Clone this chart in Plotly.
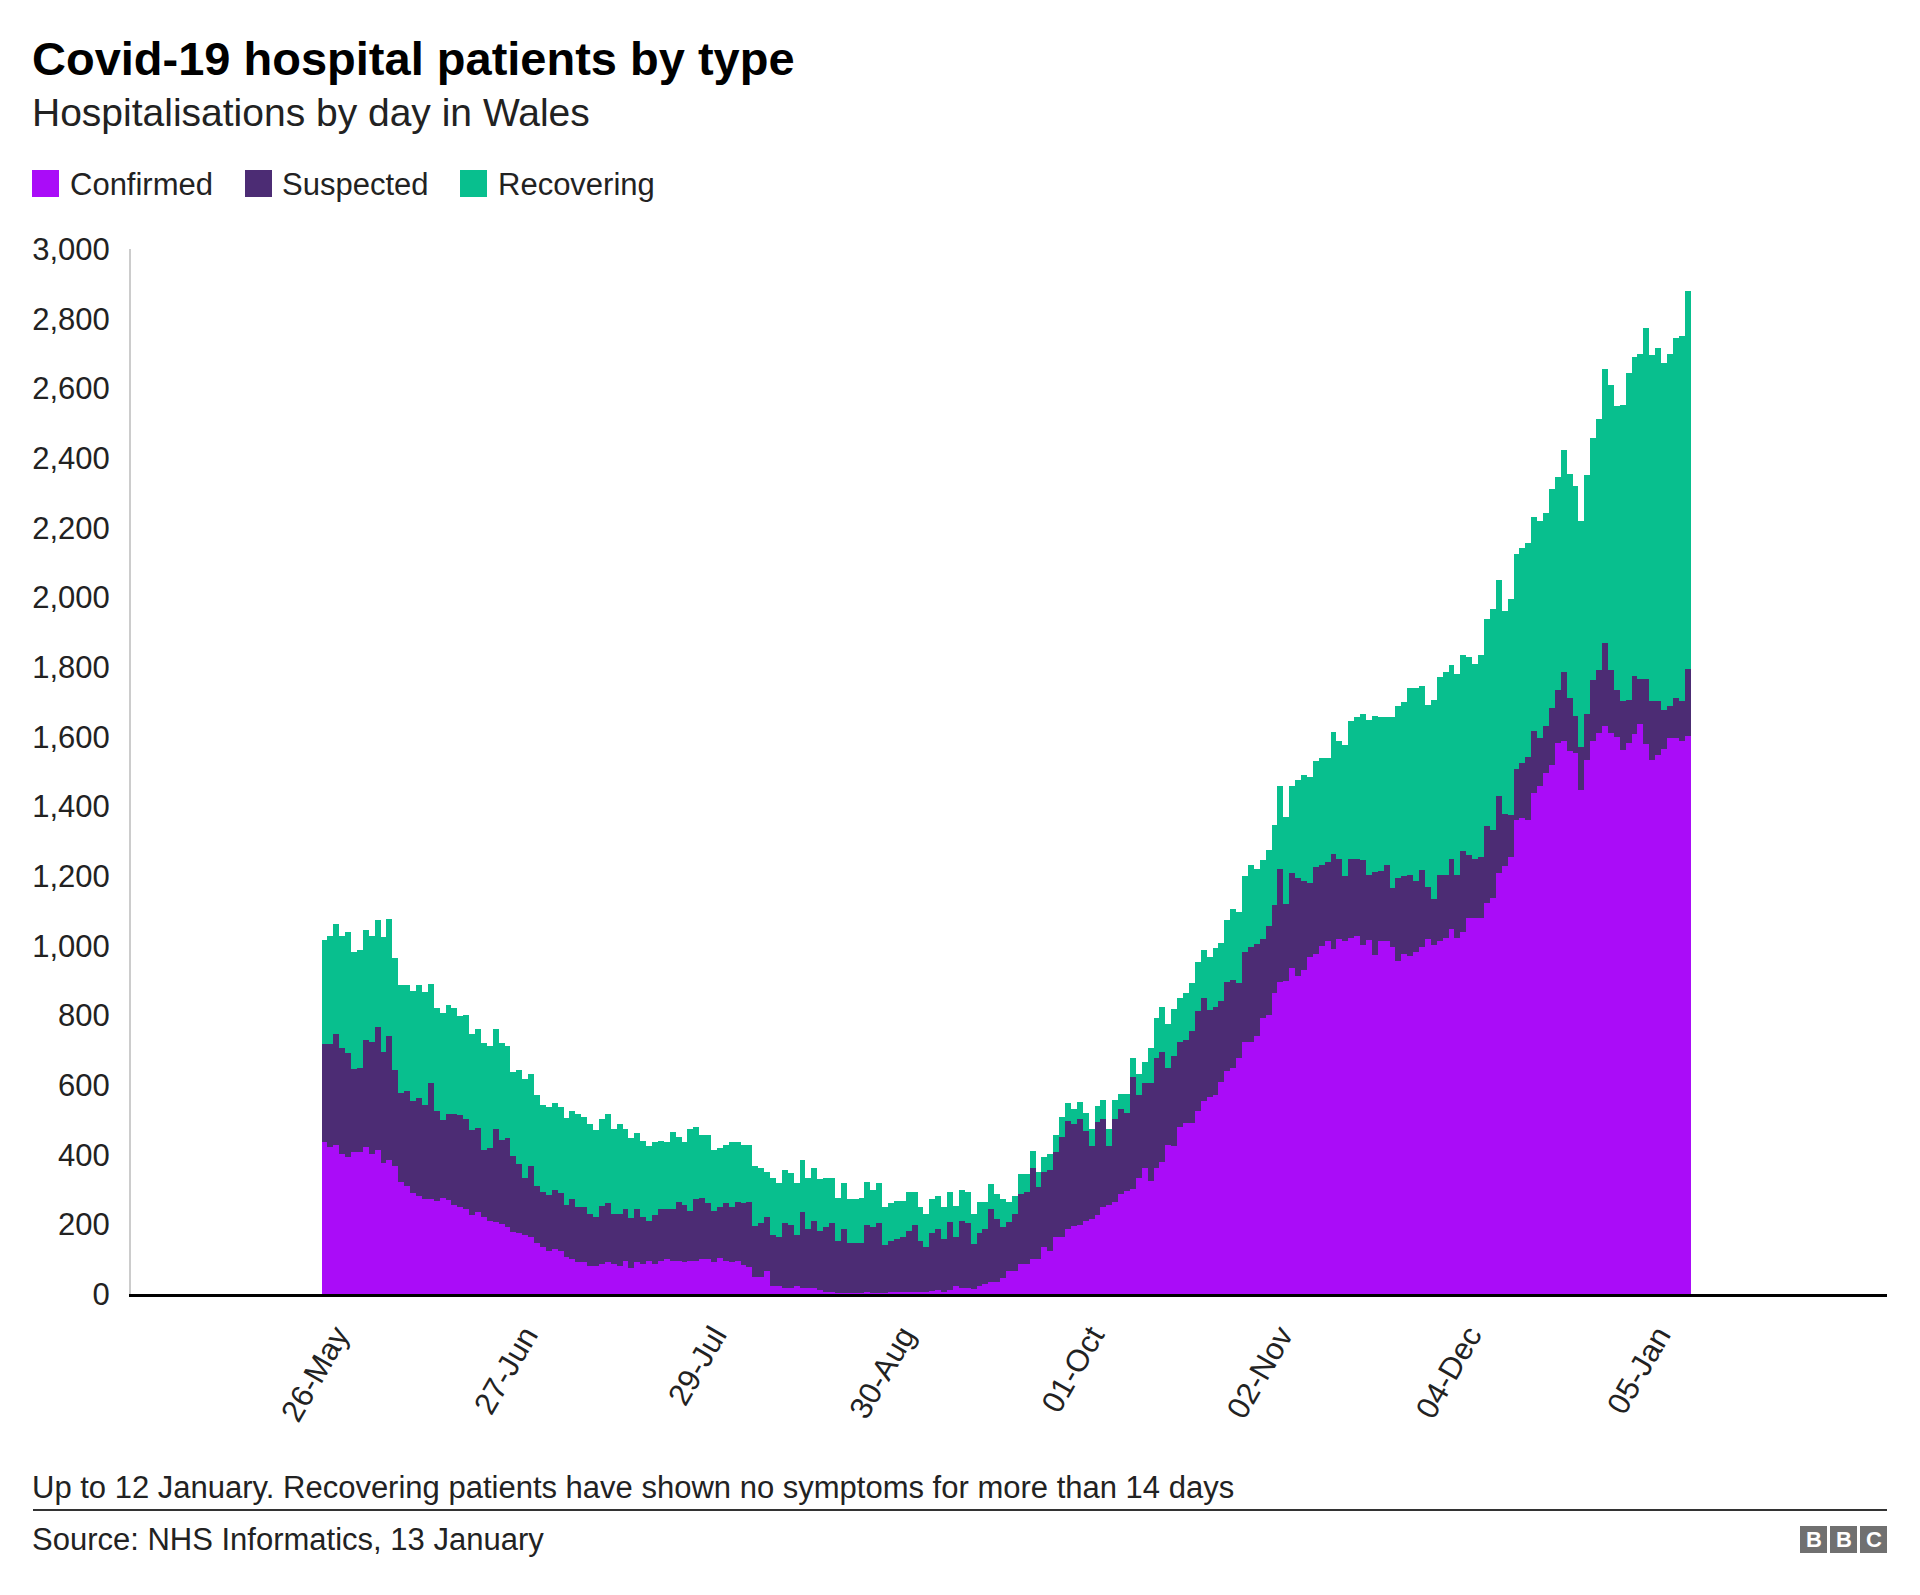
import plotly.graph_objects as go
import pandas as pd

dates = pd.date_range("2020-05-26", "2021-01-12", freq="D")

confirmed = [
    435,421,428,402,392,407,407,423,402,413,375,385,368,322,311,289,282,272,272,267,276,270,255,249,244,227,236,220,209,206,200,191,177,
    176,169,165,147,136,124,129,123,107,100,91,91,80,80,86,91,86,80,96,74,91,86,96,86,96,100,96,96,91,96,96,100,100,
    91,102,95,91,96,83,78,48,48,67,23,23,18,18,23,18,16,16,11,7,5,3,3,2,2,3,5,3,4,3,5,5,5,
    5,5,5,7,10,11,7,11,23,18,18,13,23,29,35,35,45,67,67,85,85,100,100,134,124,163,163,187,195,198,209,215,227,
    250,256,265,288,295,301,333,361,323,363,378,429,426,479,492,492,524,554,567,572,610,640,650,678,724,724,741,791,801,865,897,900,937,
    912,929,968,977,999,1012,991,1020,1013,1023,1027,1002,1016,974,1012,1012,995,956,977,970,981,995,1020,1002,1012,1023,1048,1023,1040,1079,1079,1079,1123,
    1136,1210,1230,1254,1361,1366,1362,1439,1457,1496,1520,1581,1587,1560,1554,1446,1532,1587,1611,1631,1611,1600,1562,1581,1609,1636,1578,1532,1547,1564,1597,1595,1589,1603,
]
suspected = [
    282,296,317,303,301,238,243,306,322,354,320,355,275,256,271,265,282,272,333,259,223,248,261,265,258,244,242,193,209,267,242,256,219,
    196,165,202,164,158,160,171,166,148,172,160,158,151,142,167,169,145,151,147,143,152,136,114,141,147,143,147,169,164,143,176,176,160,
    147,147,165,158,169,177,187,148,155,153,146,142,185,180,146,218,171,193,171,184,198,150,183,145,145,144,193,190,199,138,147,152,158,
    176,193,147,129,164,176,151,197,142,191,185,130,151,158,208,179,148,141,164,202,209,262,206,217,232,244,288,309,292,304,260,211,266,
    252,168,237,244,224,321,237,244,282,314,317,221,257,245,236,264,289,297,249,252,231,257,252,216,258,273,263,229,255,253,322,220,272,
    281,257,212,248,233,227,273,228,187,227,221,244,188,237,203,220,170,238,223,234,205,223,149,132,192,181,200,181,231,180,171,176,220,
    197,220,148,121,146,157,180,177,140,136,162,152,199,151,106,124,133,175,180,237,180,133,139,125,165,131,189,169,154,113,92,116,112,192,
]
recovering = [
    299,311,317,323,345,337,337,315,304,306,330,338,323,309,305,316,323,322,286,294,309,311,304,284,298,275,284,309,295,289,280,266,242,
    270,282,264,260,248,254,247,247,249,253,265,260,257,249,249,256,244,256,232,230,220,217,215,210,197,194,221,186,180,236,208,180,196,
    175,169,169,186,170,169,164,172,159,131,165,153,153,148,149,149,147,152,147,143,131,123,132,125,125,129,124,107,115,108,108,110,104,
    113,96,99,95,98,94,93,86,88,89,91,88,91,78,73,73,79,57,50,57,50,49,43,43,45,49,56,51,44,50,51,47,47,
    56,50,56,43,56,55,63,62,101,114,129,126,136,127,135,138,141,138,151,170,166,176,204,202,217,234,217,227,220,227,238,248,248,
    282,303,305,306,306,299,350,341,377,395,408,420,445,449,441,424,491,494,500,535,553,528,522,570,567,581,557,577,563,571,559,579,594,
    633,621,582,619,616,618,615,614,623,611,628,612,636,643,661,650,685,695,722,787,819,815,852,938,915,933,1006,995,1015,996,1011,1034,1050,1085,
]
assert len(confirmed) == len(suspected) == len(recovering) == len(dates)

series_names = ["Confirmed", "Suspected", "Recovering"]
series_colors = ["#aa0cf8", "#4c2c74", "#08bf8e"]

tick_dates = ["2020-05-26", "2020-06-27", "2020-07-29", "2020-08-30",
              "2020-10-01", "2020-11-02", "2020-12-04", "2021-01-05"]
tick_labels = ["26-May", "27-Jun", "29-Jul", "30-Aug", "01-Oct", "02-Nov", "04-Dec", "05-Jan"]
y_ticks = list(range(0, 3001, 200))

FONT = "Liberation Sans, Arial, Helvetica, sans-serif"
TXT = "#222222"

# page geometry (px)
WIDTH, HEIGHT = 1920, 1595
L, R, T, B = 131, 33, 249, 301
PW = WIDTH - L - R
PH = HEIGHT - T - B


def fx(x):
    return (x - L) / PW


def fy(y):
    return (HEIGHT - B - y) / PH


fig = go.Figure()
for name, vals, col in zip(series_names, [confirmed, suspected, recovering], series_colors):
    fig.add_trace(go.Bar(x=dates, y=vals, name=name, marker_color=col,
                         marker_line_width=0, showlegend=False))

shapes = []
annotations = []

# Title / subtitle
annotations.append(dict(text="<b>Covid-19 hospital patients by type</b>", x=fx(30), y=fy(59),
                        xref="paper", yref="paper", xanchor="left", yanchor="middle",
                        showarrow=False, font=dict(size=47, color="#000000", family=FONT)))
annotations.append(dict(text="Hospitalisations by day in Wales", x=fx(30), y=fy(113),
                        xref="paper", yref="paper", xanchor="left", yanchor="middle",
                        showarrow=False, font=dict(size=39, color=TXT, family=FONT)))

# Custom legend
leg_sq_x = [32, 245, 460]
leg_tx_x = [68, 280, 496]
for name, col, sx, tx in zip(series_names, series_colors, leg_sq_x, leg_tx_x):
    shapes.append(dict(type="rect", xref="paper", yref="paper",
                       x0=fx(sx), x1=fx(sx + 27), y0=fy(197), y1=fy(170),
                       fillcolor=col, line=dict(width=0)))
    annotations.append(dict(text=name, x=fx(tx), y=fy(184), xref="paper", yref="paper",
                            xanchor="left", yanchor="middle", showarrow=False,
                            font=dict(size=31, color=TXT, family=FONT)))

# Footer
annotations.append(dict(text="Up to 12 January. Recovering patients have shown no symptoms for more than 14 days",
                        x=fx(30), y=fy(1487), xref="paper", yref="paper", xanchor="left", yanchor="middle",
                        showarrow=False, font=dict(size=31, color=TXT, family=FONT)))
shapes.append(dict(type="line", xref="paper", yref="paper", x0=fx(33), x1=fx(1887),
                   y0=fy(1510), y1=fy(1510), line=dict(color="#333333", width=2)))
annotations.append(dict(text="Source: NHS Informatics, 13 January",
                        x=fx(30), y=fy(1539), xref="paper", yref="paper", xanchor="left", yanchor="middle",
                        showarrow=False, font=dict(size=31, color=TXT, family=FONT)))

# BBC logo blocks
for i, letter in enumerate(["B", "B", "C"]):
    x0 = 1800 + i * 30
    shapes.append(dict(type="rect", xref="paper", yref="paper",
                       x0=fx(x0), x1=fx(x0 + 27), y0=fy(1553), y1=fy(1526),
                       fillcolor="#707070", line=dict(width=0)))
    annotations.append(dict(text="<b>%s</b>" % letter, x=fx(x0 + 13.5), y=fy(1539.5),
                            xref="paper", yref="paper", xanchor="center", yanchor="middle",
                            showarrow=False, font=dict(size=22, color="#ffffff", family=FONT)))

fig.update_layout(
    width=WIDTH, height=HEIGHT,
    margin=dict(l=L, r=R, t=T, b=B, pad=0),
    paper_bgcolor="white", plot_bgcolor="white",
    barmode="stack", bargap=0,
    shapes=shapes, annotations=annotations,
    font=dict(family=FONT, color=TXT),
    showlegend=False,
)
fig.update_xaxes(
    type="date",
    range=["2020-04-23 04:48", "2021-02-14 19:12"],
    tickvals=tick_dates, ticktext=tick_labels,
    tickangle=-60, tickfont=dict(size=31, color=TXT, family=FONT),
    ticks="", showgrid=False, zeroline=False,
    showline=True, linecolor="#000000", linewidth=3,
    ticklabelshift=12, ticklabelstandoff=8,
    fixedrange=True,
)
fig.update_yaxes(
    range=[0, 3000],
    tickvals=y_ticks, tickformat=",",
    tickfont=dict(size=31, color=TXT, family=FONT),
    ticks="outside", ticklen=13, tickcolor="rgba(0,0,0,0)",
    showgrid=False, zeroline=False,
    showline=True, linecolor="#cccccc", linewidth=2,
    fixedrange=True,
)

fig.write_html("out.html")
